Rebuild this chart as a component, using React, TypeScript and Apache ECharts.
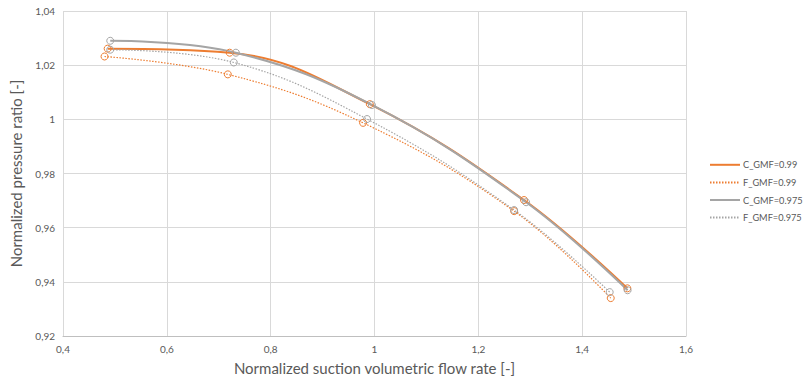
import React, { useEffect, useRef } from "react";
import * as echarts from "echarts";

const seriesNames = ["C_GMF=0.99", "F_GMF=0.99", "C_GMF=0.975", "F_GMF=0.975"];
const c099X = [0.486, 0.721, 0.991, 1.288, 1.487];
const c099Y = [1.0261, 1.0246, 1.0056, 0.9702, 0.9376];
const f099X = [0.48, 0.7175, 0.978, 1.269, 1.455];
const f099Y = [1.0232, 1.0166, 0.9987, 0.9661, 0.934];
const c0975X = [0.491, 0.733, 0.995, 1.292, 1.4875];
const c0975Y = [1.029, 1.0246, 1.0053, 0.9694, 0.9369];
const f0975X = [0.491, 0.729, 0.9856, 1.269, 1.453];
const f0975Y = [1.0257, 1.021, 1.0001, 0.9665, 0.9362];

const ORANGE = "#ED7D31";
const GRAY = "#A5A5A5";
const FONT = "Lato";

const fmt = (v: number) => String(Math.round(v * 1000) / 1000).replace(".", ",");
const pairs = (xs: number[], ys: number[]) => xs.map((x, i) => [x, ys[i]]);

export default function App() {
  const ref = useRef<HTMLDivElement>(null);
  useEffect(() => {
    document.documentElement.style.overflow = "hidden";
    document.body.style.overflow = "hidden";
    document.body.style.margin = "0";
    if (!ref.current) return;
    const chart = echarts.init(ref.current, undefined, { renderer: "svg" });
    const mk = (name: string, data: number[][], color: string, dotted: boolean) => ({
      name,
      type: "line",
      data,
      smooth: 0.4,
      symbol: "circle",
      symbolSize: 7,
      showSymbol: true,
      itemStyle: { color: "rgba(255,255,255,0)", borderColor: color, borderWidth: 1 },
      lineStyle: { color, width: dotted ? 1.2 : 2, type: dotted ? [1.5, 1.5] : "solid" },
      emphasis: { disabled: true },
    });
    chart.setOption({
      animation: false,
      textStyle: { fontFamily: FONT },
      grid: { left: 55, right: 120, top: 11, bottom: 41 },
      xAxis: {
        type: "value",
        min: 0.4,
        max: 1.6,
        interval: 0.2,
        name: "Normalized suction volumetric flow rate [-]",
        nameLocation: "middle",
        nameGap: 24,
        nameTextStyle: { fontSize: 15, color: "#595959", fontFamily: FONT },
        axisLine: { show: true, lineStyle: { color: "#BFBFBF" } },
        axisTick: { show: false },
        axisLabel: { formatter: fmt, fontSize: 10, color: "#595959", margin: 8, fontFamily: FONT },
        splitLine: { show: true, lineStyle: { color: "#D9D9D9" } },
      },
      yAxis: {
        type: "value",
        min: 0.92,
        max: 1.04,
        interval: 0.02,
        name: "Normalized pressure ratio [-]",
        nameLocation: "middle",
        nameGap: 40,
        nameTextStyle: { fontSize: 15, color: "#595959", fontFamily: FONT },
        axisLine: { show: false },
        axisTick: { show: false },
        axisLabel: { formatter: fmt, fontSize: 10, color: "#595959", margin: 8, fontFamily: FONT },
        splitLine: { show: true, lineStyle: { color: "#D9D9D9" } },
      },
      legend: {
        orient: "vertical",
        left: 709,
        top: 160,
        padding: 0,
        itemGap: 8,
        itemWidth: 30,
        itemHeight: 12,
        data: seriesNames,
        textStyle: { fontSize: 9.2, color: "#595959", fontFamily: FONT, padding: [0, 0, 0, -2] },
        itemStyle: { color: "rgba(0,0,0,0)", borderColor: "rgba(0,0,0,0)", borderWidth: 0 },
      },
      series: [
        mk(seriesNames[0], pairs(c099X, c099Y), ORANGE, false),
        mk(seriesNames[1], pairs(f099X, f099Y), ORANGE, true),
        mk(seriesNames[2], pairs(c0975X, c0975Y), GRAY, false),
        mk(seriesNames[3], pairs(f0975X, f0975Y), GRAY, true),
      ],
    });
    return () => chart.dispose();
  }, []);
  return (
    <div
      ref={ref}
      style={{ position: "absolute", left: 0, top: 0, width: 806, height: 380, overflow: "hidden" }}
    />
  );
}
